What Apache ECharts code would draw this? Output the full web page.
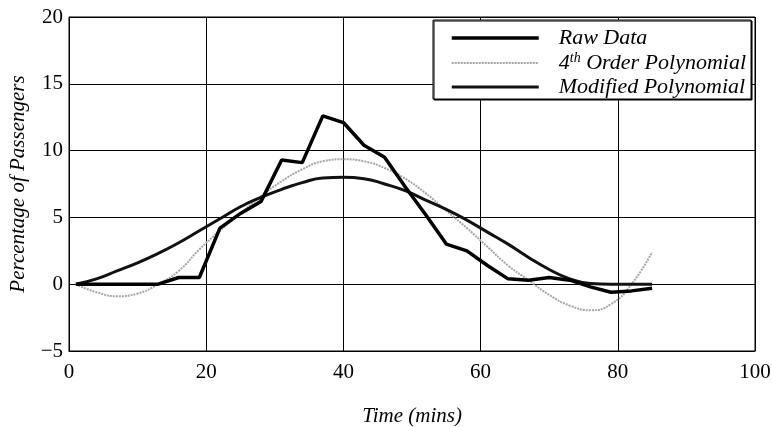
<!DOCTYPE html>
<html>
<head>
<meta charset="utf-8">
<script src="https://cdn.jsdelivr.net/npm/echarts@6/dist/echarts.min.js"></script>
<style>html,body{margin:0;padding:0;background:#fff}#c{width:772px;height:427px}</style>
</head>
<body>
<div id="c"></div>
<script>
const times = [1,4,7,10,13,16,19,22,25,28,31,34,37,40,43,46,49,52,55,58,61,64,67,70,73,76,79,82,85];
const rawData = [0,0,0,0,0,0.5,0.5,4.2,5.3,6.2,9.3,9.1,12.6,12.1,10.4,9.5,7.3,5.2,3.0,2.5,1.4,0.4,0.3,0.5,0.3,-0.2,-0.6,-0.5,-0.3];
const poly4 = [0,-0.6,-0.9,-0.7,0.0,1.0,2.6,4.0,5.3,6.6,7.7,8.6,9.2,9.35,9.2,8.7,7.9,6.8,5.5,4.2,2.8,1.4,0.3,-0.8,-1.6,-1.95,-1.5,0.0,2.4];
const modPoly = [0,0.4,1.0,1.6,2.3,3.1,4.0,4.9,5.8,6.5,7.1,7.6,7.95,8.0,7.9,7.5,7.0,6.3,5.6,4.8,3.9,3.0,2.0,1.1,0.4,0.05,0,0,0];
const seriesNames = ['Raw Data','4th Order Polynomial','Modified Polynomial'];
const xTicks = {min:0,max:100,interval:20};
const yTicks = {min:-5,max:20,interval:5};

const pair = arr => times.map((t,i)=>[t,arr[i]]);
const font = '"Liberation Serif","DejaVu Serif",serif';
const styles = [
  {color:'#000',width:3.5,type:'solid'},
  {color:'#a5a5a5',width:2,type:[2,1]},
  {color:'#111',width:3,type:'solid'}
];
const chart = echarts.init(document.getElementById('c'));
chart.setOption({
  animation:false,
  backgroundColor:'#fff',
  grid:{left:69,right:17,top:17,bottom:76,show:true,borderColor:'#000',borderWidth:1,outerBoundsMode:'none',containLabel:false},
  legend:{
    orient:'vertical', left:433, top:20,
    padding:[7,5,1,17], itemGap:2, itemWidth:87, itemHeight:14,
    backgroundColor:'#fff', borderColor:'#000', borderWidth:1,
    shadowColor:'#000', shadowOffsetX:1, shadowOffsetY:1, shadowBlur:0,
    itemStyle:{opacity:0},
    data:seriesNames.map((n,i)=>({name:n,lineStyle:{color:styles[i].color,width:styles[i].width,type:styles[i].type}})),
    formatter:function(n){
      if(n==='4th Order Polynomial') return '{n|4}{s|th}{n| Order Polynomial}';
      return '{n|'+n+'}';
    },
    textStyle:{padding:[0,0,0,15],rich:{
      n:{fontFamily:font,fontStyle:'italic',fontSize:22,color:'#000'},
      s:{fontFamily:font,fontStyle:'italic',fontSize:14,color:'#000',verticalAlign:'top',padding:[0,0,10,0]}
    }}
  },
  xAxis:{type:'value',min:xTicks.min,max:xTicks.max,interval:xTicks.interval,
    name:'Time (mins)',nameLocation:'middle',nameGap:55,
    nameTextStyle:{fontFamily:font,fontStyle:'italic',fontSize:21,color:'#000'},
    axisLine:{onZero:false,lineStyle:{color:'#000'}},axisTick:{show:false},
    axisLabel:{fontFamily:font,fontSize:21,color:'#000',margin:11},
    splitLine:{show:true,lineStyle:{color:'#000',width:1}}},
  yAxis:{type:'value',min:yTicks.min,max:yTicks.max,interval:yTicks.interval,
    name:'Percentage of Passengers',nameLocation:'middle',nameGap:40,
    nameTextStyle:{fontFamily:font,fontStyle:'italic',fontSize:21,color:'#000'},
    axisLine:{lineStyle:{color:'#000'}},axisTick:{show:false},
    axisLabel:{fontFamily:font,fontSize:21,color:'#000',margin:6,formatter:v=>String(v).replace('-','\u2212')},
    splitLine:{show:true,lineStyle:{color:'#000',width:1}}},
  series:seriesNames.map((n,i)=>({
    name:n,type:'line',data:pair([rawData,poly4,modPoly][i]),symbol:'none',smooth:i>0,
    lineStyle:styles[i],itemStyle:{color:styles[i].color},z:[5,3,4][i]
  }))
});
</script>
</body>
</html>
